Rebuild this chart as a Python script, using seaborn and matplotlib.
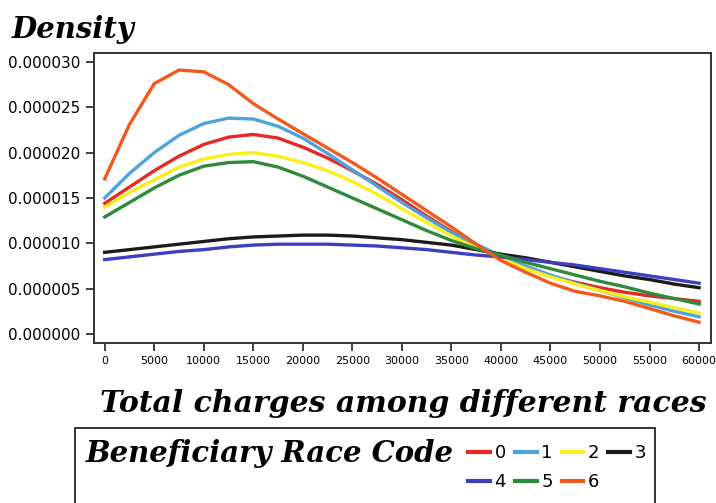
import matplotlib
matplotlib.use("Agg")
import matplotlib.pyplot as plt
import matplotlib.patches as mpatches
import seaborn as sns
import pandas as pd
import numpy as np

# charge grid (x) and density per race code, in units of 1e-6
charges = [0, 2500, 5000, 7500, 10000, 12500, 15000, 17500, 20000, 22500, 25000,
           27500, 30000, 32500, 35000, 37500, 40000, 42500, 45000, 47500, 50000,
           52500, 55000, 57500, 60000]
race_0 = [14.4, 16.2, 18.0, 19.6, 20.9, 21.7, 22.0, 21.6, 20.6, 19.4, 18.0, 16.5, 14.8,
          13.0, 11.3, 9.7, 8.4, 7.3, 6.4, 5.7, 5.1, 4.6, 4.2, 3.9, 3.6]
race_1 = [15.0, 17.7, 20.0, 21.9, 23.2, 23.8, 23.7, 22.9, 21.6, 19.9, 18.1, 16.3, 14.5,
          12.8, 11.2, 9.9, 8.6, 7.5, 6.5, 5.6, 4.8, 4.0, 3.2, 2.5, 1.9]
race_2 = [14.0, 15.6, 17.0, 18.4, 19.3, 19.8, 20.0, 19.6, 18.9, 18.0, 16.8, 15.4, 13.8,
          12.3, 10.8, 9.5, 8.3, 7.2, 6.3, 5.5, 4.8, 4.1, 3.5, 2.9, 2.3]
race_3 = [9.0, 9.3, 9.6, 9.9, 10.2, 10.5, 10.7, 10.8, 10.9, 10.9, 10.8, 10.6, 10.4,
          10.1, 9.8, 9.3, 8.8, 8.4, 7.9, 7.4, 6.9, 6.4, 6.0, 5.5, 5.1]
race_4 = [8.2, 8.5, 8.8, 9.1, 9.3, 9.6, 9.8, 9.9, 9.9, 9.9, 9.8, 9.7, 9.5,
          9.3, 9.0, 8.7, 8.5, 8.2, 7.9, 7.6, 7.2, 6.8, 6.4, 6.0, 5.6]
race_5 = [12.9, 14.5, 16.1, 17.5, 18.5, 18.9, 19.0, 18.4, 17.4, 16.2, 15.0, 13.8, 12.6,
          11.4, 10.3, 9.4, 8.7, 7.9, 7.2, 6.5, 5.8, 5.2, 4.5, 3.9, 3.3]
race_6 = [17.1, 23.1, 27.6, 29.1, 28.9, 27.5, 25.4, 23.7, 22.1, 20.5, 18.9, 17.2, 15.4,
          13.6, 11.8, 9.9, 8.1, 6.8, 5.6, 4.7, 4.2, 3.6, 2.8, 2.0, 1.3]
race_codes = ["0", "1", "2", "3", "4", "5", "6"]
colors = ["#e52a26", "#4ea3dd", "#fbee1c", "#1c1a1a", "#3b40c0", "#2f8a3c", "#f05a1c"]

series = [race_0, race_1, race_2, race_3, race_4, race_5, race_6]
df = pd.concat([
    pd.DataFrame({"charge": charges, "density": np.array(vals) * 1e-6, "race": code})
    for code, vals in zip(race_codes, series)
])

fancy = ["DejaVu Serif"]

fig = plt.figure(figsize=(7.16, 5.03), dpi=100)
ax = fig.add_axes([0.131, 0.318, 0.862, 0.577])

sns.lineplot(data=df, x="charge", y="density", hue="race", palette=colors,
             linewidth=2.4, ax=ax, legend=True)
handles, labels = ax.get_legend_handles_labels()
ax.get_legend().remove()

ax.set_xlim(-1100, 61200)
ax.set_ylim(-1.0e-6, 3.1e-5)
ax.set_xticks(range(0, 60001, 5000))
ax.set_yticks(np.arange(0, 3.01e-5, 5e-6))
ax.set_yticklabels([f"{v:.6f}" for v in np.arange(0, 3.01e-5, 5e-6)])
ax.set_xlabel("")
ax.set_ylabel("")
ax.tick_params(axis="both", direction="out", length=6, width=1.3, color="#333333")
ax.tick_params(axis="y", labelsize=11)
ax.tick_params(axis="x", labelsize=8)
for sp in ax.spines.values():
    sp.set_color("#333333")
    sp.set_linewidth(1.4)

fig.text(0.016, 1 - 30 / 503, "Density", fontsize=21, fontweight="bold",
         fontstyle="italic", family=fancy, va="center", ha="left")
fig.text(403 / 716, 1 - 403 / 503, "Total charges among different races", fontsize=21.5,
         fontweight="bold", fontstyle="italic", family=fancy, va="center", ha="center")

# legend box
fig.patches.append(mpatches.Rectangle((75 / 716, -0.05), (655 - 75) / 716, (0.05 + 1 - 428 / 503),
                                      transform=fig.transFigure, fill=False,
                                      edgecolor="#333333", linewidth=1.4))
fig.text(86 / 716, 1 - 453 / 503, "Beneficiary Race Code", fontsize=21, fontweight="bold",
         fontstyle="italic", family=fancy, va="center", ha="left")
order = [0, 4, 1, 5, 2, 6, 3]
leg = fig.legend([handles[i] for i in order], [labels[i] for i in order], ncol=4,
                 loc="upper left", bbox_to_anchor=(452 / 716, 1 - 428 / 503), frameon=False,
                 handlelength=1.2, handletextpad=0.25, columnspacing=0.5,
                 labelspacing=0.6, prop={"size": 13})
for line in leg.get_lines():
    line.set_linewidth(3)

fig.savefig("out.png", dpi=100, facecolor="white")
